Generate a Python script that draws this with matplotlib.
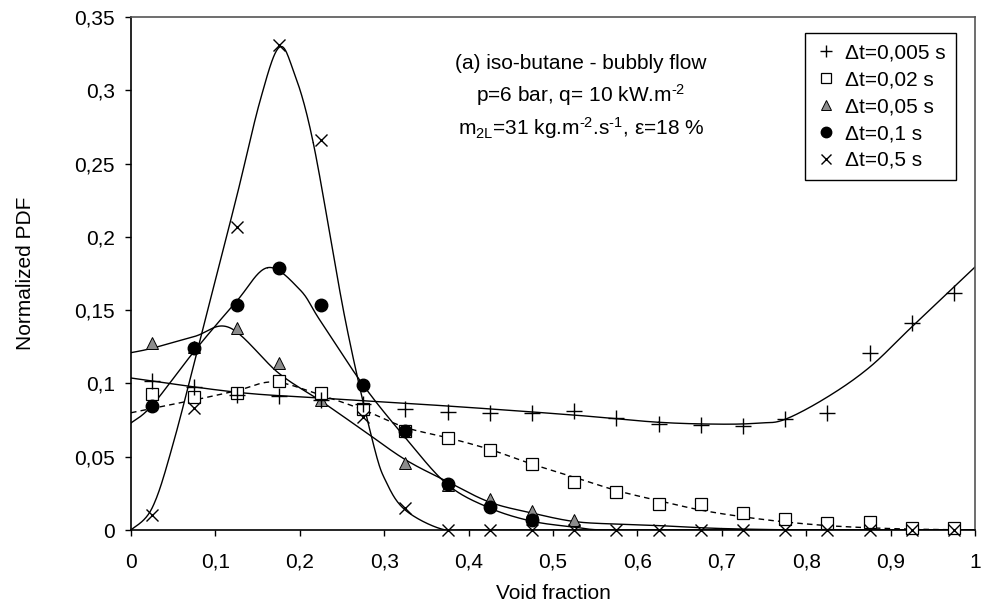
import numpy as np
import matplotlib
matplotlib.use('Agg')
import matplotlib.pyplot as plt
from matplotlib.lines import Line2D
from matplotlib.ticker import FuncFormatter

plt.rcParams['font.family'] = ['Liberation Sans', 'DejaVu Sans']
plt.rcParams['mathtext.fontset'] = 'custom'
plt.rcParams['mathtext.rm'] = 'Liberation Sans'
plt.rcParams['mathtext.it'] = 'Liberation Sans:italic'

# bin centres of the void fraction
void = [0.025, 0.075, 0.125, 0.175, 0.225, 0.275, 0.325, 0.375, 0.425, 0.475,
        0.525, 0.575, 0.625, 0.675, 0.725, 0.775, 0.825, 0.875, 0.925, 0.975]
nan = np.nan

# measured PDFs
pdf_005 = [0.1016, 0.0975, 0.092, 0.0914, 0.089, 0.086, 0.0825, 0.0805, 0.0798, 0.080,
           0.081, 0.0764, 0.0723, 0.0716, 0.0712, 0.0757, 0.0798, 0.121, 0.141, 0.162]
pdf_02 = [0.0928, 0.0907, 0.0935, 0.1016, 0.0935, 0.0825, 0.0675, 0.0628, 0.0546, 0.045,
          0.0327, 0.026, 0.018, 0.018, 0.0114, 0.0078, 0.0046, 0.0055, 0.0016, 0.0016]
pdf_05 = [0.1276, 0.125, 0.138, 0.114, 0.089, 0.083, 0.046, 0.031, 0.021, 0.013,
          0.0068, nan, nan, nan, nan, nan, nan, nan, nan, nan]
pdf_1 = [0.0846, 0.124, 0.1535, 0.1787, 0.1535, 0.099, 0.0675, 0.0314, 0.0157, 0.0068,
         nan, nan, nan, nan, nan, nan, nan, nan, nan, nan]
pdf_5 = [0.010, 0.083, 0.207, 0.331, 0.266, 0.077, 0.015, 0, 0, 0,
         0, 0, 0, 0, 0, 0, 0, 0, 0, 0]

# fitted curves
fit_005_x = [0, 0.125, 0.225, 0.375, 0.525, 0.625, 0.7, 0.745, 0.775, 0.825, 0.875, 0.925, 1.0]
fit_005_y = [0.1037, 0.094, 0.090, 0.0846, 0.0784, 0.0735, 0.0722, 0.0730, 0.0755, 0.0907, 0.111, 0.1385, 0.1794]
fit_02_x = [0, 0.075, 0.125, 0.17, 0.225, 0.275, 0.325, 0.375, 0.425, 0.475, 0.525, 0.575,
            0.625, 0.675, 0.725, 0.775, 0.825, 0.875, 0.925, 1.0]
fit_02_y = [0.080, 0.0887, 0.095, 0.101, 0.092, 0.082, 0.070, 0.063, 0.055, 0.045, 0.036, 0.027,
            0.020, 0.0136, 0.009, 0.0055, 0.003, 0.0015, 0.0006, 0.0]
fit_05_x = [0, 0.025, 0.075, 0.117, 0.175, 0.225, 0.275, 0.325, 0.375, 0.425, 0.475, 0.525,
            0.575, 0.625, 0.7, 0.8, 0.9, 1.0]
fit_05_y = [0.121, 0.124, 0.132, 0.138, 0.107, 0.088, 0.068, 0.048, 0.033, 0.019, 0.0116, 0.0058,
            0.004, 0.003, 0.001, 0.0, 0.0, 0.0]
fit_1_x = [0, 0.025, 0.075, 0.125, 0.162, 0.2, 0.224, 0.275, 0.325, 0.375,
           0.425, 0.475, 0.525, 0.56, 0.65, 0.8, 1.0]
fit_1_y = [0.073, 0.085, 0.122, 0.156, 0.179, 0.164, 0.143, 0.099, 0.063, 0.031,
           0.015, 0.006, 0.002, 0.0, 0.0, 0.0, 0.0]
fit_5_x = [0, 0.025, 0.05, 0.0877, 0.125, 0.153, 0.175, 0.192, 0.216, 0.254, 0.287, 0.303,
           0.325, 0.366, 0.4, 0.5, 0.75, 1.0]
fit_5_y = [0, 0.015, 0.059, 0.143, 0.227, 0.293, 0.329, 0.314, 0.264, 0.143, 0.059, 0.032,
           0.0136, 0.001, 0, 0, 0, 0]

labels = ['Δt=0,005 s', 'Δt=0,02 s', 'Δt=0,05 s', 'Δt=0,1 s', 'Δt=0,5 s']


def smooth(xk, yk, n=24):
    # catmull-rom line through the knots, like a spreadsheet "smoothed line"
    p = np.column_stack([xk, yk]).astype(float)
    p = np.vstack([p[0], p, p[-1]])
    out = []
    t = np.linspace(0, 1, n)[:, None]
    for i in range(1, len(p) - 2):
        p0, p1, p2, p3 = p[i - 1], p[i], p[i + 1], p[i + 2]
        seg = 0.5 * (2 * p1 + (-p0 + p2) * t + (2 * p0 - 5 * p1 + 4 * p2 - p3) * t ** 2
                     + (-p0 + 3 * p1 - 3 * p2 + p3) * t ** 3)
        out.append(seg)
    out = np.vstack(out)
    return out[:, 0], out[:, 1]


fig = plt.figure(figsize=(9.82, 6.09), dpi=100)
ax = fig.add_axes([131 / 982, 1 - 530 / 609, 844 / 982, 513 / 609])

fs = 15
lw = 1.0
for fx, fy, ls in [(fit_005_x, fit_005_y, '-'), (fit_02_x, fit_02_y, (0, (4, 3))),
                   (fit_05_x, fit_05_y, '-'), (fit_1_x, fit_1_y, '-'), (fit_5_x, fit_5_y, '-')]:
    sx, sy = smooth(fx, fy)
    ax.plot(sx, sy, color='black', lw=lw, linestyle=ls, zorder=2)

ax.plot(void, pdf_05, linestyle='none', marker='^', ms=9, mfc='#8c8c8c', mec='black', mew=0.7,
        clip_on=False, zorder=3)
ax.plot(void, pdf_02, linestyle='none', marker='s', ms=8.5, mfc='white', mec='black', mew=0.9,
        clip_on=False, zorder=3)
ax.plot(void, pdf_1, linestyle='none', marker='o', ms=9, mfc='black', mec='black',
        clip_on=False, zorder=4)
ax.plot(void, pdf_005, linestyle='none', marker='+', ms=11, mec='black', mew=1.0,
        clip_on=False, zorder=5)
ax.plot(void, pdf_5, linestyle='none', marker='x', ms=9, mec='black', mew=1.0,
        clip_on=False, zorder=5)

ax.set_xlim(0, 1)
ax.set_ylim(0, 0.35)
ax.set_xticks(np.arange(0, 1.01, 0.1))
ax.set_yticks(np.arange(0, 0.351, 0.05))
fmt = FuncFormatter(lambda v, pos: ('%g' % round(v, 3)).replace('.', ','))
ax.xaxis.set_major_formatter(fmt)
ax.yaxis.set_major_formatter(fmt)
ax.tick_params(direction='out', length=4.5, width=1, labelsize=fs, color='black')
ax.tick_params(axis='x', pad=12)
ax.tick_params(axis='y', pad=7)
for s in ['left', 'bottom']:
    ax.spines[s].set_color('black')
    ax.spines[s].set_linewidth(1.2)
for s in ['top', 'right']:
    ax.spines[s].set_color('#555555')
    ax.spines[s].set_linewidth(1.2)

ax.set_xlabel('Void fraction', fontsize=fs, labelpad=9)
ax.set_ylabel('Normalized PDF', fontsize=fs, labelpad=28)

ax.text(0.533, 0.3185, '(a) iso-butane - bubbly flow', ha='center', va='center', fontsize=fs)
ax.text(0.533, 0.2967, r'p=6 bar, q= 10 kW.m$^{\text{-2}}$', ha='center', va='center', fontsize=fs)
ax.text(0.533, 0.2745, r'm$_{\text{2L}}$=31 kg.m$^{\text{-2}}$.s$^{\text{-1}}$, ε=18 %', ha='center',
        va='center', fontsize=fs)

handles = [
    Line2D([], [], linestyle='none', marker='+', ms=8, mec='black', mew=1.0),
    Line2D([], [], linestyle='none', marker='s', ms=6.5, mfc='white', mec='black', mew=0.9),
    Line2D([], [], linestyle='none', marker='^', ms=7, mfc='#8c8c8c', mec='black', mew=0.7),
    Line2D([], [], linestyle='none', marker='o', ms=7.5, mfc='black', mec='black'),
    Line2D([], [], linestyle='none', marker='x', ms=7, mec='black', mew=1.0),
]
leg = ax.legend(handles, labels, loc='upper right', bbox_to_anchor=(0.977, 0.969),
                borderaxespad=0, fontsize=fs, fancybox=False, framealpha=1,
                edgecolor='black', handlelength=1.0, handletextpad=0.4, labelspacing=0.38,
                borderpad=0.5)
leg.get_frame().set_linewidth(1.0)

fig.savefig('out.png', dpi=100)
